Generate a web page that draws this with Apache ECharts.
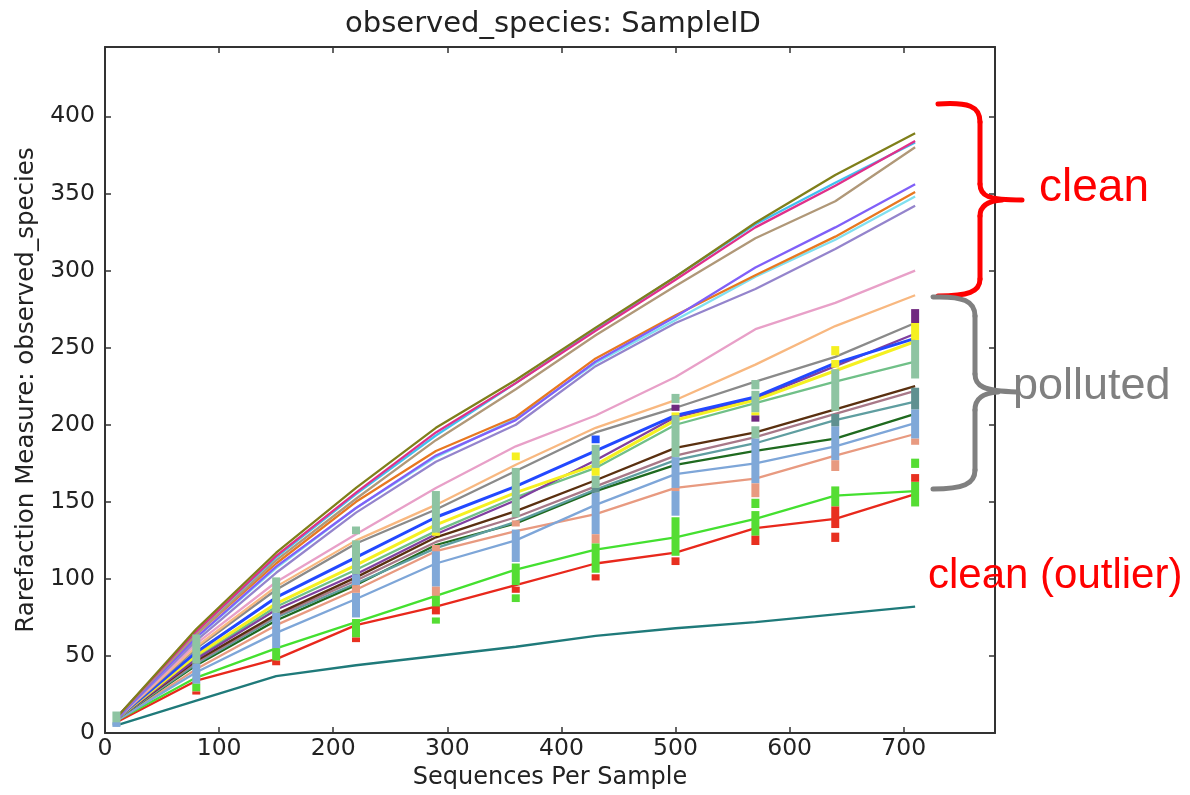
<!DOCTYPE html>
<html><head><meta charset="utf-8">
<script src="https://cdn.jsdelivr.net/npm/echarts@6/dist/echarts.min.js"></script>
<style>html,body{margin:0;padding:0;background:#fff}#c{width:1190px;height:795px}</style>
</head><body><div id="c"></div><script>
// ---- data ----
const depths = [10, 80, 150, 220, 290, 360, 430, 500, 570, 640, 710];
const xTicks = [0, 100, 200, 300, 400, 500, 600, 700];
const yTicks = [0, 50, 100, 150, 200, 250, 300, 350, 400];

const olive      = [10, 67.5, 117, 159, 198, 229, 263, 296, 331, 362, 389];
const deepPink   = [10, 66, 115, 156, 195, 227, 261, 294, 328, 355, 384];
const skyBlue    = [10, 66, 114, 155, 193, 227, 262, 296, 330, 357, 383];
const tan        = [10, 64, 112, 152, 190, 223, 258, 290, 321, 345, 380];
const slateBlue  = [9, 62, 108, 146, 180, 203, 241, 270, 302, 328, 356];
const orange     = [9, 64, 110, 150, 183, 205, 243, 271, 297, 322, 351];
const lightCyan  = [9, 62, 107, 146, 179, 204, 240, 268, 296, 320, 348];
const medPurple  = [9, 60, 104, 143, 176, 200, 238, 266, 288, 314, 342];
const lightPink  = [9, 58, 98, 129, 159, 186, 206, 231, 262, 279, 300];
const sandy      = [9, 56, 95, 125, 148, 174, 198, 216, 239, 264, 284];
const gray       = [9, 55, 93, 123, 145, 170, 195, 211, 228, 244, 266];
const blue       = [9, 52.5, 88, 114, 140, 160, 183, 206, 218, 240, 256];
const yellow     = [9, 50.5, 84, 109, 135, 156, 174, 203, 216, 235, 254];
const purple     = [9, 48, 80, 103, 129, 151, 177, 205, 217, 238, 259];
const seaGreen   = [9, 49, 82, 106, 131, 153, 172, 200, 214, 228, 241];
const brown      = [9, 47, 77, 101, 127, 144, 164, 185, 195, 210, 225];
const rosyBrown  = [9, 46, 76, 99, 124, 140, 160, 180, 192, 207, 222];
const cadet      = [9, 45, 75, 97, 120, 137, 158, 177, 188, 203, 215];
const darkGreen  = [9, 44, 73, 96, 122, 136, 157, 174, 183, 191, 207];
const lightBlue  = [8, 39.5, 65, 87, 110, 125, 148, 168, 175, 186, 201];
const salmon     = [8, 41.5, 70, 93, 118, 131, 142, 159, 165, 180, 194];
const green      = [8, 36, 55, 72, 89, 106, 119, 127, 139, 154, 157];
const red        = [7, 34, 48, 70, 82, 96, 110, 117, 133, 139, 155];
const teal       = [5, 21, 37, 44, 50, 56, 63, 68, 72, 77, 82];

// vertical error-bar segments: [depth, low, high]
const barsSeaGreen = [[10,5,14],[80,45,64],[150,78,101],[220,129,134],[220,103,125],[290,130,157],[360,140,172],[430,172,187],[430,159,167],[500,214,220],[500,179,206],[570,223,229],[570,208,222],[570,191,199],[640,209,236],[710,230,255]];
const barsLightBlue = [[10,4,7],[80,32,45],[150,55,78],[220,96,103],[220,75,91],[290,95,118],[360,111,132],[430,129,156],[500,159,179],[500,141,157],[570,162,191],[640,177,199],[710,191,210]];
const barsSalmon = [[220,91,96],[290,118,122],[290,89,95],[360,134,138],[430,123,129],[500,157,159],[570,153,162],[640,170,177],[710,187,191]];
const barsGreen = [[80,27,32],[150,47,55],[220,62,74],[290,82,89],[290,71,75],[360,96,110],[360,85,90],[430,104,123],[500,115,140],[570,146,152],[570,128,144],[640,147,160],[710,172,178],[710,147,163]];
const barsRed = [[80,25,27],[150,44,47],[220,59,62],[290,77,82],[360,91,95],[430,99,103],[500,109,114],[570,122,128],[640,133,147],[640,124,130],[710,163,168]];
const barsYellow = [[290,128,130],[360,177,182],[430,167,172],[500,206,208],[570,206,208],[640,237,242],[640,245,251],[710,255,266]];
const barsPurple = [[500,209,213],[570,202,206],[710,266,275]];
const barsCadet = [[430,156,159],[640,199,207],[710,210,224]];
const barsBlue = [[430,188,193]];

// ---- styling ----
const lineDefs = [
  [teal, '#1f7a7a'], [red, '#e8281c'], [green, '#44e030'],
  [salmon, '#e89a80'], [lightBlue, '#7ea6d8'], [darkGreen, '#1f6a1f'],
  [cadet, '#5f9ea0'], [rosyBrown, '#a87888'], [brown, '#5a3010'],
  [seaGreen, '#70c088'], [purple, '#8040a0'], [yellow, '#f5f020'],
  [blue, '#2248ff'], [gray, '#8a8a8a'], [sandy, '#f8b880'], [lightPink, '#e8a0c8'],
  [medPurple, '#9484cc'], [lightCyan, '#80e0f0'], [orange, '#e87820'], [slateBlue, '#8060f8'],
  [tan, '#b09878'], [skyBlue, '#40c0f0'], [deepPink, '#e0308a'], [olive, '#7f7f1a']
];
const barDefs = [
  [barsSeaGreen, '#8ec4a2'], [barsLightBlue, '#80a8d8'], [barsSalmon, '#e89a80'],
  [barsGreen, '#55dd33'], [barsRed, '#e83020'], [barsYellow, '#f5f020'],
  [barsPurple, '#702880'], [barsCadet, '#5f9090'], [barsBlue, '#2050ff']
];

const series = [];
lineDefs.forEach(([vals, col]) => {
  series.push({
    type: 'line', data: depths.map((d, i) => [d, vals[i]]),
    symbol: 'none', showSymbol: false, silent: true, animation: false,
    lineStyle: { color: col, width: (col === '#2248ff' || col === '#f5f020') ? 3 : 2.3 },
    itemStyle: { color: col }, z: 2
  });
});
barDefs.forEach(([segs, col]) => {
  series.push({
    type: 'custom', data: segs, animation: false, silent: true, z: 3,
    encode: { x: 0, y: [1, 2] },
    renderItem: function (params, api) {
      const x = api.value(0), lo = api.value(1), hi = api.value(2);
      const p1 = api.coord([x, hi]); const p2 = api.coord([x, lo]);
      return { type: 'rect', shape: { x: p1[0] - 4, y: p1[1], width: 8, height: Math.max(2, p2[1] - p1[1]) },
               style: { fill: col } };
    }
  });
});

// curly braces (annotation decoration, pixel space)
function brace(pts, col) {
  return pts.map(p => p[0] === 'b'
    ? { type: 'bezierCurve', z: 10, silent: true,
        shape: { x1: p[1], y1: p[2], cpx1: p[3], cpy1: p[4], cpx2: p[5], cpy2: p[6], x2: p[7], y2: p[8] },
        style: { fill: null, stroke: col, lineWidth: 5, lineCap: 'round' } }
    : { type: 'line', z: 10, silent: true,
        shape: { x1: p[1], y1: p[2], x2: p[3], y2: p[4] },
        style: { stroke: col, lineWidth: 5, lineCap: 'round' } });
}
const redBrace = brace([
  ['b', 938,104, 968,102, 980,106, 980,122],
  ['l', 980,122, 980,184],
  ['b', 980,184, 980,196, 988,200, 1022,200],
  ['b', 1002,200, 987,201, 980,206, 980,216],
  ['l', 980,216, 980,279],
  ['b', 980,279, 980,292, 968,296, 938,296]
], '#fe0000');
const grayBrace = brace([
  ['b', 933,297, 963,296, 975,301, 975,316],
  ['l', 975,316, 975,374],
  ['b', 975,374, 975,386, 983,391, 1017,392],
  ['b', 998,392, 983,393, 975,398, 975,410],
  ['l', 975,410, 975,470],
  ['b', 975,470, 975,484, 963,489, 933,489]
], '#808080');

const axisCol = '#333';
const font = 'DejaVu Sans';
const chart = echarts.init(document.getElementById('c'), null, { renderer: 'canvas' });
chart.setOption({
  backgroundColor: '#fff',
  animation: false,
  title: { text: 'observed_species: SampleID', left: 548, top: 5, textAlign: 'center',
           textStyle: { fontFamily: font, fontSize: 29, fontWeight: 'normal', color: '#222' } },
  grid: { left: 105, right: 195, top: 47, bottom: 60, show: false },
  xAxis: [
    { type: 'value', min: 0, max: 780, interval: 100, position: 'bottom',
      name: 'Sequences Per Sample', nameLocation: 'middle', nameGap: 32,
      nameTextStyle: { fontFamily: font, fontSize: 24, color: '#222' },
      axisLine: { show: true, onZero: false, lineStyle: { color: axisCol, width: 2 } },
      axisTick: { show: true, inside: true, length: 6, lineStyle: { color: axisCol, width: 1.5 } },
      axisLabel: { fontFamily: font, fontSize: 23.5, color: '#222', margin: 4, showMaxLabel: false,
                   formatter: v => xTicks.includes(v) ? String(v) : '' },
      splitLine: { show: false } },
    { type: 'value', min: 0, max: 780, interval: 100, position: 'top',
      axisLine: { show: true, onZero: false, lineStyle: { color: axisCol, width: 2 } },
      axisTick: { show: true, inside: true, length: 6, lineStyle: { color: axisCol, width: 1.5 } },
      axisLabel: { show: false }, splitLine: { show: false } }
  ],
  yAxis: [
    { type: 'value', min: 0, max: 445, interval: 50, position: 'left',
      name: 'Rarefaction Measure: observed_species', nameLocation: 'middle', nameGap: 64,
      nameTextStyle: { fontFamily: font, fontSize: 24.5, color: '#222' },
      axisLine: { show: true, onZero: false, lineStyle: { color: axisCol, width: 2 } },
      axisTick: { show: true, inside: true, length: 6, lineStyle: { color: axisCol, width: 1.5 } },
      axisLabel: { fontFamily: font, fontSize: 23.5, color: '#222', margin: 10, showMaxLabel: false,
                   formatter: v => yTicks.includes(v) ? String(v) : '' },
      splitLine: { show: false } },
    { type: 'value', min: 0, max: 445, interval: 50, position: 'right',
      axisLine: { show: true, onZero: false, lineStyle: { color: axisCol, width: 2 } },
      axisTick: { show: true, inside: true, length: 6, lineStyle: { color: axisCol, width: 1.5 } },
      axisLabel: { show: false }, splitLine: { show: false } }
  ],
  series: series,
  graphic: redBrace.concat(grayBrace).concat([
    { type: 'text', z: 10, silent: true, left: 1039, top: 188 - 23,
      style: { text: 'clean', fontFamily: 'Liberation Sans', fontSize: 46, fill: '#fe0000' } },
    { type: 'text', z: 10, silent: true, left: 1013, top: 386 - 22,
      style: { text: 'polluted', fontFamily: 'Liberation Sans', fontSize: 45, fill: '#808080' } },
    { type: 'text', z: 10, silent: true, left: 928, top: 576 - 21,
      style: { text: 'clean (outlier)', fontFamily: 'Liberation Sans', fontSize: 42, fill: '#fe0000' } }
  ])
});
</script></body></html>
